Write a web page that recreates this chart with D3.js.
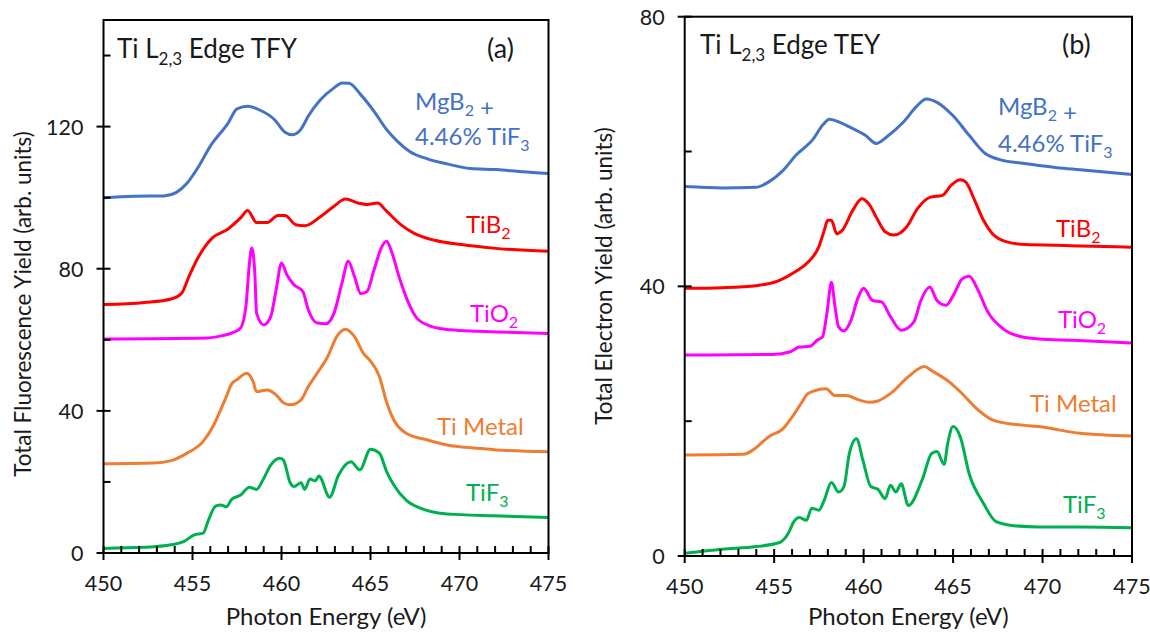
<!DOCTYPE html>
<html>
<head>
<meta charset="utf-8">
<script src="https://cdn.jsdelivr.net/npm/d3@7"></script>
<style>
  body { margin: 0; background: #fff; }
  svg text { font-family: Lato, "Open Sans", sans-serif; fill: #1a1a1a; }
</style>
</head>
<body>
<div id="chart"></div>
<script>
// ---- data: [photon energy (eV), yield] ----
// (a) TFY
const tfyMgB2 = [[450,100],[451.7,100.4],[453.4,100.5],[454.1,101.5],[454.7,104.1],[455.3,108.4],[456,114.5],[457,121],[457.5,125],[458.1,125.7],[458.8,124.6],[459.6,122],[460.2,118.4],[460.6,117.7],[461.1,119.3],[461.5,122.9],[462.2,127.6],[462.95,130.9],[463.4,132.3],[463.8,132.2],[464.45,129],[465.2,124.3],[465.9,119.2],[466.5,115.9],[467.2,113],[468.2,110.9],[469.3,109.5],[470.6,108.2],[472.1,107.9],[473.5,107.3],[475,106.8]];
const tfyTiB2 = [[450,69.9],[452.3,70.5],[453.8,71.5],[454.4,73.2],[454.8,77.8],[455.3,83],[456.1,88.6],[457,91.2],[457.7,94.3],[458.1,96.4],[458.6,93],[459.2,93],[459.8,95],[460.2,95],[460.8,92.4],[461.3,92.1],[462.2,94.7],[462.95,97.6],[463.6,99.6],[464.3,98.5],[464.8,98.1],[465.4,98.5],[465.9,96.2],[466.7,92.4],[467.4,90.1],[468.6,88],[470.1,86.8],[471.9,85.8],[475,84.9]];
const tfyTiO2 = [[450,60.2],[455.8,60.5],[456.6,61.1],[457.3,62.1],[457.7,63.3],[458,69.4],[458.2,81.6],[458.33,85.8],[458.5,78.8],[458.6,67.5],[459,64.2],[459.4,66.6],[459.7,74.1],[460,81.6],[460.3,78.3],[460.7,75.5],[461.2,73.6],[461.5,68.5],[462,64.7],[462.5,64.5],[462.95,67.5],[463.4,76],[463.75,82.1],[464.1,77.8],[464.45,73],[464.8,73.6],[465.2,79.7],[465.6,85.8],[465.9,87.7],[466.2,84.6],[466.6,77.8],[467.1,70.8],[467.6,66.1],[468.4,63.8],[469.5,62.8],[471,62.4],[472.1,62.2],[475,61.8]];
const tfyTiMetal = [[450,25.1],[452.8,25.3],[453.8,26],[454.7,28.1],[455.6,31.4],[456.2,36.1],[456.6,40.5],[456.9,44],[457.2,47.6],[457.5,48.8],[458.05,50.6],[458.4,48.3],[458.6,45.4],[459.2,45.9],[459.7,44.5],[460.1,42.3],[460.5,41.7],[461.1,43.1],[461.5,46.8],[462,50.6],[462.6,55.3],[463.1,60.9],[463.6,63],[464.1,60.9],[464.6,56.2],[465,54],[465.5,49.7],[465.9,42.5],[466.3,37.5],[467,33.7],[468.2,31.8],[469.3,30.4],[471,29.5],[472.1,29],[475,28.5]];
const tfyTiF3 = [[450,1.3],[452.3,1.6],[453.8,2.3],[454.5,3.2],[455.1,5.1],[455.6,5.6],[455.9,9.3],[456.3,13.2],[456.6,13.5],[456.9,13],[457.2,15.1],[457.7,16.3],[458.2,18.5],[458.6,17.9],[459,21],[459.4,24.8],[459.9,26.7],[460.1,26.2],[460.5,19.6],[460.7,18.7],[461.1,19.8],[461.3,17.9],[461.6,20.8],[461.9,20.3],[462.1,21.7],[462.7,15.7],[463.2,21.9],[463.9,25.7],[464.4,23.4],[465,29.2],[465.5,28.1],[465.9,23],[466.3,19.2],[467,14.9],[467.8,12.6],[468.9,11.2],[470.1,10.8],[471.9,10.5],[475,10]];
// (b) TEY
const teyMgB2 = [[450,54.8],[452.1,54.6],[454,54.7],[454.7,55.5],[455.5,57.2],[456.2,59.4],[457.2,61.9],[457.7,63.9],[458.1,64.8],[458.7,64.3],[459.4,63.4],[460.1,62.4],[460.7,61.2],[461.3,62.2],[462.2,64.3],[463,66.8],[463.5,67.8],[464.1,67.3],[465,65.3],[465.9,62.4],[466.8,59.7],[467.6,58.8],[469.1,58.2],[470.8,57.6],[472.1,57.3],[475,56.6]];
const teyTiB2 = [[450,39.7],[452.1,39.8],[454,40.1],[455.3,40.9],[456.2,42.2],[456.9,43.6],[457.5,45.9],[457.8,48.3],[457.99,49.8],[458.2,49.8],[458.5,47.8],[458.8,48.3],[459.4,51.3],[459.9,53],[460.3,52.2],[460.7,50.3],[461.2,48.1],[461.7,47.6],[462.4,48.8],[463,51.5],[463.7,53.2],[464.4,53.5],[464.9,55],[465.4,55.8],[465.7,55.5],[466.2,52.8],[466.7,49.8],[467.2,47.8],[468,46.6],[469.1,46.2],[470.8,46.1],[472.1,46],[475,45.8]];
const teyTiO2 = [[450,29.8],[454.9,29.9],[455.9,30.3],[456.4,31],[457,31.1],[457.4,32],[457.7,32.5],[457.95,36],[458.2,40.6],[458.4,37],[458.6,34],[458.9,33.4],[459.3,35],[459.7,38.4],[460,39.7],[460.5,37.9],[461,37.7],[461.5,35.5],[462.1,33.5],[462.8,34.7],[463.2,37.9],[463.7,39.9],[464.1,37.9],[464.6,37.2],[465.1,39.1],[465.5,41.1],[465.9,41.5],[466.4,39.4],[466.9,36.4],[467.8,33.7],[468.7,32.6],[469.8,32.2],[471.7,32],[475,31.6]];
const teyTiMetal = [[450,15],[453.3,15.1],[453.8,15.7],[454.7,17.7],[455.5,18.9],[456,20.6],[456.5,22.6],[456.9,24.1],[457.9,24.8],[458.4,23.8],[459,23.8],[459.7,23.2],[460.3,22.8],[460.8,23],[461.6,24.3],[462.5,26.6],[463.4,28.1],[463.8,27.5],[464.8,25.8],[465.5,24.1],[466.3,21.9],[467.2,20.2],[468.5,19.5],[469.8,19.2],[472.1,18.2],[475,17.8]];
const teyTiF3 = [[450,0.4],[452.1,1],[454,1.4],[455.3,2],[455.8,3.4],[456.1,5.1],[456.4,5.7],[456.8,5.3],[457.1,7.1],[457.5,6.8],[457.8,8.3],[458.2,10.9],[458.6,9.5],[458.9,10.3],[459.2,15.2],[459.6,17.4],[459.96,14.2],[460.4,10.3],[460.8,9.9],[461.2,8.5],[461.5,10.5],[461.8,9.5],[462.1,10.7],[462.5,7.5],[463.3,11.5],[463.8,15.2],[464.1,15.5],[464.5,13.6],[464.7,16.7],[465,19.2],[465.4,17.7],[465.9,12.2],[466.7,7.8],[467.4,5.1],[468.4,4.5],[469.8,4.3],[472.1,4.3],[475,4.2]];

const xTicks = [450, 455, 460, 465, 470, 475];
const tfyTicks = [0, 40, 80, 120];
const teyTicks = [0, 40, 80];

const colors = { mgb2: "#4472C4", tib2: "#FF0000", tio2: "#FF00FF", metal: "#ED7D31", tif3: "#00B050" };

const svg = d3.select("#chart").append("svg")
    .attr("width", 1150)
    .attr("height", 632);

function drawPanel(cfg) {
    const x = d3.scaleLinear().domain([450, 475]).range([cfg.left, cfg.right]);
    const y = d3.scaleLinear().domain([0, cfg.yMax]).range([cfg.bottom, cfg.top]);
    const g = svg.append("g");

    const line = d3.line()
        .x(d => x(d[0]))
        .y(d => y(d[1]))
        .curve(d3.curveMonotoneX);

    cfg.series.forEach(s => {
        g.append("path")
            .datum(s.data)
            .attr("d", line)
            .attr("fill", "none")
            .attr("stroke", s.color)
            .attr("stroke-width", 3)
            .attr("stroke-linejoin", "round");
    });

    // frame
    g.append("rect")
        .attr("x", cfg.left).attr("y", cfg.top)
        .attr("width", cfg.right - cfg.left).attr("height", cfg.bottom - cfg.top)
        .attr("fill", "none").attr("stroke", "#000").attr("stroke-width", 2);

    // x ticks: major cross the axis, minor inside
    d3.range(450, 476, 1).forEach(v => {
        const major = v % 5 === 0;
        g.append("line")
            .attr("x1", x(v)).attr("x2", x(v))
            .attr("y1", cfg.bottom + (major ? 7 : 0)).attr("y2", cfg.bottom - 7)
            .attr("stroke", "#000").attr("stroke-width", 2);
    });
    g.selectAll(".xl").data(xTicks).enter().append("text")
        .attr("x", d => x(d)).attr("y", cfg.bottom + 38)
        .attr("text-anchor", "middle").attr("font-size", 21.5)
        .text(d => d);

    // y ticks
    d3.range(0, cfg.yMax + 1, 20).forEach(v => {
        const major = v % 40 === 0;
        g.append("line")
            .attr("x1", cfg.left - (major ? 7 : 0)).attr("x2", cfg.left + 7)
            .attr("y1", y(v)).attr("y2", y(v))
            .attr("stroke", "#000").attr("stroke-width", 2);
    });
    g.selectAll(".yl").data(cfg.yTicks).enter().append("text")
        .attr("x", cfg.left - 20).attr("y", d => y(d) + 8)
        .attr("text-anchor", "end").attr("font-size", 21.5)
        .text(d => d);

    // axis titles
    g.append("text")
        .attr("x", (cfg.left + cfg.right) / 2).attr("y", 625)
        .attr("text-anchor", "middle").attr("font-size", 24)
        .text("Photon Energy (eV)");
    g.append("text")
        .attr("transform", `translate(${cfg.yTitleX},${cfg.yTitleY}) rotate(-90)`)
        .attr("text-anchor", "middle").attr("font-size", 22.5)
        .text(cfg.yTitle);

    // panel title with subscript
    const t = g.append("text")
        .attr("x", cfg.titleX).attr("y", cfg.titleY).attr("font-size", 26);
    t.append("tspan").text("Ti L");
    t.append("tspan").attr("font-size", 17).attr("dy", 7).text("2,3");
    t.append("tspan").attr("dy", -7).text(" Edge " + cfg.mode);
    g.append("text")
        .attr("x", cfg.tagX).attr("y", cfg.titleY).attr("font-size", 27)
        .text(cfg.tag);

    // curve labels
    cfg.labels.forEach(l => {
        const tx = g.append("text")
            .attr("x", l.x).attr("y", l.y)
            .attr("font-size", 24)
            .style("fill", l.color);
        l.parts.forEach(p => {
            if (p.sub) {
                tx.append("tspan").attr("font-size", 16).attr("dy", 6).text(p.sub);
                tx.append("tspan").attr("dy", -6).text("");
            } else {
                tx.append("tspan").text(p.t);
            }
        });
    });
}

drawPanel({
    left: 103.5, right: 548.5, top: 20, bottom: 553, yMax: 150,
    yTicks: tfyTicks,
    yTitle: "Total Fluorescence Yield (arb. units)", yTitleX: 31, yTitleY: 304,
    titleX: 117, titleY: 58, tagX: 487, tag: "(a)", mode: "TFY",
    series: [
        { data: tfyMgB2, color: colors.mgb2 },
        { data: tfyTiB2, color: colors.tib2 },
        { data: tfyTiO2, color: colors.tio2 },
        { data: tfyTiMetal, color: colors.metal },
        { data: tfyTiF3, color: colors.tif3 }
    ],
    labels: [
        { x: 415, y: 110, color: colors.mgb2, parts: [{ t: "MgB" }, { sub: "2" }, { t: " +" }] },
        { x: 415, y: 145, color: colors.mgb2, parts: [{ t: "4.46% TiF" }, { sub: "3" }] },
        { x: 466, y: 233, color: colors.tib2, parts: [{ t: "TiB" }, { sub: "2" }] },
        { x: 470, y: 322, color: colors.tio2, parts: [{ t: "TiO" }, { sub: "2" }] },
        { x: 437, y: 435, color: colors.metal, parts: [{ t: "Ti Metal" }] },
        { x: 466, y: 501, color: colors.tif3, parts: [{ t: "TiF" }, { sub: "3" }] }
    ]
});

drawPanel({
    left: 684.7, right: 1132, top: 16.7, bottom: 556, yMax: 80,
    yTicks: teyTicks,
    yTitle: "Total Electron Yield (arb. units)", yTitleX: 612, yTitleY: 276,
    titleX: 700, titleY: 54, tagX: 1062, tag: "(b)", mode: "TEY",
    series: [
        { data: teyMgB2, color: colors.mgb2 },
        { data: teyTiB2, color: colors.tib2 },
        { data: teyTiO2, color: colors.tio2 },
        { data: teyTiMetal, color: colors.metal },
        { data: teyTiF3, color: colors.tif3 }
    ],
    labels: [
        { x: 998, y: 115, color: colors.mgb2, parts: [{ t: "MgB" }, { sub: "2" }, { t: " +" }] },
        { x: 998, y: 152, color: colors.mgb2, parts: [{ t: "4.46% TiF" }, { sub: "3" }] },
        { x: 1056, y: 237, color: colors.tib2, parts: [{ t: "TiB" }, { sub: "2" }] },
        { x: 1058, y: 328, color: colors.tio2, parts: [{ t: "TiO" }, { sub: "2" }] },
        { x: 1030, y: 412, color: colors.metal, parts: [{ t: "Ti Metal" }] },
        { x: 1063, y: 513, color: colors.tif3, parts: [{ t: "TiF" }, { sub: "3" }] }
    ]
});
</script>
</body>
</html>
